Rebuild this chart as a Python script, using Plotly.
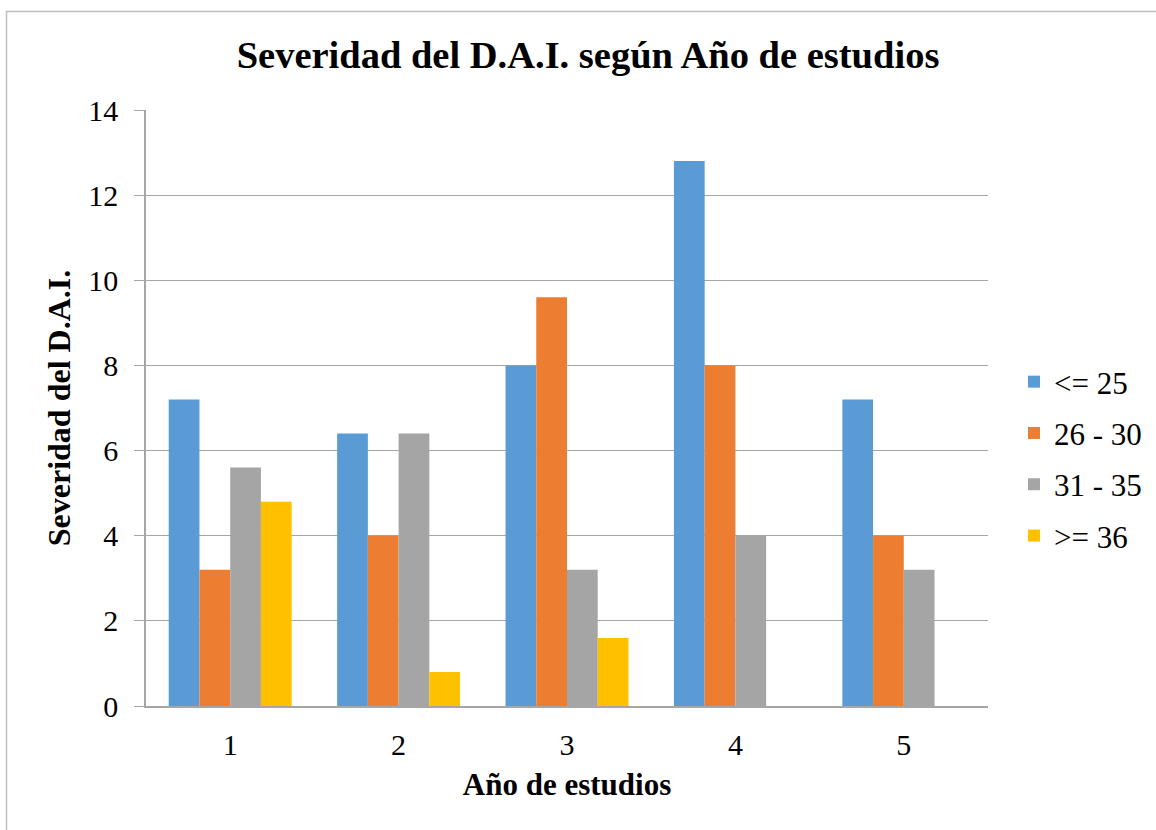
import plotly.graph_objects as go

# Severity of D.A.I. by year of study, grouped by age band
years = ["1", "2", "3", "4", "5"]
le_25 = [7.2, 6.4, 8.0, 12.8, 7.2]
r26_30 = [3.2, 4.0, 9.6, 8.0, 4.0]
r31_35 = [5.6, 6.4, 3.2, 4.0, 3.2]
ge_36 = [4.8, 0.8, 1.6, 0, 0]

series_names = ["<= 25", "26 - 30", "31 - 35", ">= 36"]
series_values = [le_25, r26_30, r31_35, ge_36]
series_colors = ["#5B9BD5", "#ED7D31", "#A5A5A5", "#FFC000"]

W, H = 1156, 830
ML, MR, MT, MB = 146, 168, 110, 124
PW, PH = W - ML - MR, H - MT - MB

FONT = "Liberation Serif"

def f(size, weight="normal"):
    return dict(family=FONT, size=size, color="black", weight=weight)

fig = go.Figure()
for name, vals, col in zip(series_names, series_values, series_colors):
    fig.add_trace(go.Bar(x=years, y=vals, name=name, legendgroup=name,
                         marker=dict(color=col, line=dict(width=0))))

def px_x(p):
    return (p - ML) / PW

def px_y(p):
    return (H - MB - p) / PH

fig.update_layout(
    width=W, height=H,
    margin=dict(l=ML, r=MR, t=MT, b=MB, pad=0, autoexpand=False),
    paper_bgcolor="white", plot_bgcolor="white",
    barmode="group", bargap=0.27, bargroupgap=0,
    title=dict(text="Severidad del D.A.I. según Año de estudios",
               x=588 / W, xanchor="center", y=1 - 55 / H, yanchor="middle",
               font=f(38.5, "bold")),
    xaxis=dict(showgrid=False, showline=True, linecolor="#A6A6A6", linewidth=1.5,
               ticks="", tickfont=f(30), ticklabelstandoff=11, automargin=False,
               title=dict(text="Año de estudios", font=f(31, "bold"), standoff=14)),
    yaxis=dict(range=[0, 14], dtick=2, showgrid=True, gridcolor="#A6A6A6", gridwidth=1,
               showline=True, linecolor="#A6A6A6", linewidth=1.5,
               ticks="outside", ticklen=10, tickcolor="#A6A6A6", automargin=False,
               tickfont=f(30), zeroline=False, ticklabelstandoff=10,
               title=dict(text="Severidad del D.A.I.", font=f(32, "bold"), standoff=8)),
    legend=dict(x=px_x(1014), xanchor="left", y=px_y(459), yanchor="middle",
                font=f(31), itemwidth=30, traceorder="grouped", tracegroupgap=8),
    shapes=[dict(type="rect", xref="paper", yref="paper",
                 x0=px_x(6.5), x1=px_x(W + 20), y0=px_y(11.5), y1=px_y(H + 20),
                 line=dict(color="#BFBFBF", width=1.5), fillcolor="rgba(0,0,0,0)", layer="below")],
)

fig.write_html("out.html")
